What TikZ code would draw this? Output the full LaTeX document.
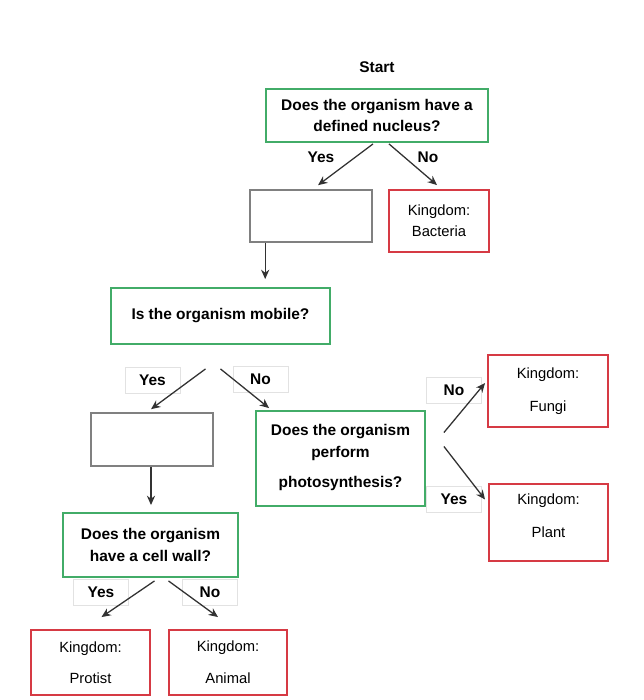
\documentclass[tikz,border=0pt]{standalone}
\usepackage{fontspec}
\setmainfont{Liberation Sans}
\usetikzlibrary{calc,arrows.meta}
\definecolor{boxgreen}{RGB}{66,172,104}
\definecolor{boxred}{RGB}{214,58,68}
\definecolor{boxgray}{RGB}{128,128,128}
\definecolor{arrowgray}{RGB}{50,50,50}
\definecolor{tagline}{RGB}{226,226,226}

\begin{document}
\begin{tikzpicture}[x=0.03cm,y=-0.03cm,>={Stealth[length=8pt,width=7pt]},
    every node/.style={font=\fontsize{12.6}{18}\selectfont, inner sep=0pt, align=center},
    qbox/.style={draw=boxgreen, line width=1.6pt, font=\bfseries\fontsize{13.2}{18}\selectfont},
    kbox/.style={draw=boxred, line width=1.6pt},
    ebox/.style={draw=boxgray, line width=1.4pt},
    tag/.style={draw=tagline, line width=0.6pt, font=\bfseries\fontsize{13.2}{18}\selectfont,
      minimum width=1.65cm, minimum height=0.78cm},
    arr/.style={->, draw=arrowgray, line width=1.1pt}]
    \useasboundingbox (0,0) rectangle (644,700);

    % yes / no tags
    \node[tag] (q2yes) at (152.5,380) {Yes};
    \node[tag] (q2no) at (260.5,379.5) {No};
    \node[tag] (q3yes) at (101,592) {Yes};
    \node[tag] (q3no) at (210,592) {No};
    \node[tag] (q4no) at (454,390.5) {No};
    \node[tag] (q4yes) at (454,499.5) {Yes};
    \node[font=\bfseries\fontsize{13.2}{18}\selectfont] (q1yes) at (321,157) {Yes};
    \node[font=\bfseries\fontsize{13.2}{18}\selectfont] (q1no) at (428,157) {No};

    % boxes
    \node[font=\bfseries\fontsize{13.2}{18}\selectfont] (start) at (377,67) {Start};
    \node[qbox, minimum width=6.66cm, minimum height=1.59cm] (q1) at (377,115.5) {Does the organism have a\\defined nucleus?};
    \node[ebox, minimum width=3.66cm, minimum height=1.56cm] (e1) at (311,216) {};
    \node[kbox, minimum width=3cm, minimum height=1.86cm] (bact) at (439,221) {Kingdom:\\Bacteria};
    \node[qbox, minimum width=6.57cm, minimum height=1.68cm] (q2) at (220.5,316) {Is the organism mobile?};
    \node[ebox, minimum width=3.66cm, minimum height=1.59cm] (e2) at (152,439.5) {};
    \node[qbox, minimum width=5.25cm, minimum height=1.92cm] (q3) at (150.5,545) {Does the organism\\have a cell wall?};
    \node[kbox, minimum width=3.57cm, minimum height=1.95cm] (protist) at (90.5,662.5) {Kingdom:\\[8pt]Protist};
    \node[kbox, minimum width=3.54cm, minimum height=1.95cm] (animal) at (228,662.5) {Kingdom:\\[9pt]Animal};
    \node[qbox, minimum width=5.07cm, minimum height=2.85cm, text depth=4pt] (q4) at (340.5,458.5) {Does the organism\\perform\\[8pt]photosynthesis?};
    \node[kbox, minimum width=3.6cm, minimum height=2.16cm] (fungi) at (548,391) {Kingdom:\\[10pt]Fungi};
    \node[kbox, minimum width=3.57cm, minimum height=2.31cm, text depth=12pt] (plant) at (548.5,522.5) {Kingdom:\\[10pt]Plant};

    % arrows
    \draw[arr] ($(q1.south)+(-4,1)$) -- ($(e1.north)+(7,-4)$);
    \draw[arr] ($(q1.south)+(12,1)$) -- ($(bact.north)+(-2,-4)$);
    \coordinate (e1out) at ($(e1.south west)+(16,0)$);
    \draw[arr, shorten >=0.24cm] (e1out) -- (e1out |- q2.north);
    \draw[arr] ($(q2.south)+(-15,24)$) -- ($(e2.north)+(-1,-3)$);
    \draw[arr] ($(q2.south)+(0,24)$) -- ($(q4.north west)+(14,-2)$);
    \coordinate (e2out) at ($(e2.south)+(-1,0)$);
    \draw[arr, shorten >=0.21cm] (e2out) -- (e2out |- q3.north);
    \draw[arr] ($(q3.south)+(4,3)$) -- ($(protist.north)+(11,-12)$);
    \draw[arr] ($(q3.south)+(18,3)$) -- ($(animal.north)+(-10,-12)$);
    \draw[arr] ($(q4.east)+(18,-26)$) -- ($(fungi.west)+(-2,-8)$);
    \draw[arr] ($(q4.east)+(18,-12)$) -- ($(plant.west)+(-3,-23)$);
\end{tikzpicture}
\end{document}
